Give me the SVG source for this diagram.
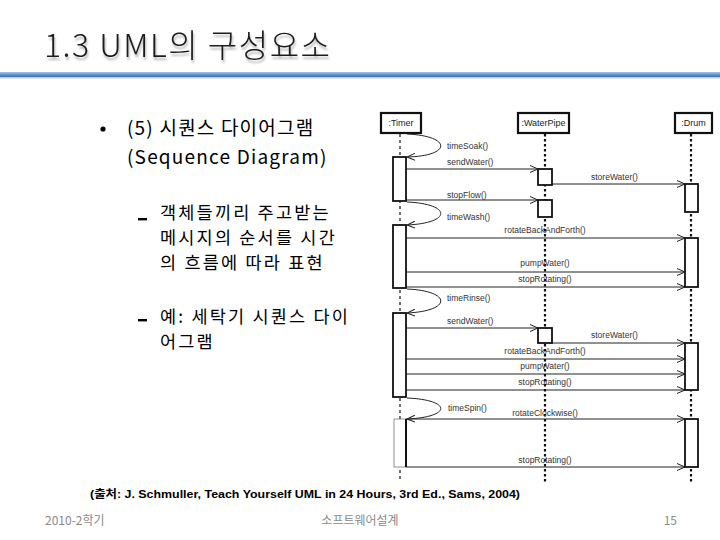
<svg xmlns="http://www.w3.org/2000/svg" width="720" height="540" viewBox="0 0 720 540">
<defs>
<linearGradient id="bar" x1="0" y1="0" x2="0" y2="1">
<stop offset="0" stop-color="#a9c8ee"/>
<stop offset="0.45" stop-color="#6b9bd6"/>
<stop offset="1" stop-color="#3d6fae"/>
</linearGradient>
<filter id="sh" x="-5%" y="-20%" width="110%" height="160%">
<feDropShadow dx="1" dy="3" stdDeviation="1.2" flood-color="#000" flood-opacity="0.3"/>
</filter>
<marker id="ah" markerWidth="9" markerHeight="8" refX="8" refY="4" orient="auto" markerUnits="userSpaceOnUse">
<path d="M0,0.5 L8,4 L0,7.5" fill="none" stroke="#222" stroke-width="1"/>
</marker>
</defs>
<style>
.title{font-family:"Noto Sans CJK KR","Noto Sans",sans-serif;font-size:32px;letter-spacing:1.5px;fill:#1a1a1a;font-weight:300}
.body{font-family:"Noto Sans CJK KR","Noto Sans",sans-serif;font-size:17.5px;letter-spacing:2.2px;fill:#000}
.body1{font-family:"Noto Sans CJK KR","Noto Sans",sans-serif;font-size:19px;letter-spacing:1.2px;fill:#000}
.lbl{font-family:"Liberation Sans",Arial,sans-serif;font-size:8.5px;fill:#333}
.hdr{font-family:"Liberation Sans",Arial,sans-serif;font-size:9px;fill:#222}
.foot{font-family:"Noto Sans CJK KR","Noto Sans",sans-serif;font-size:12px;fill:#8a8a8a}
.cite{font-family:"Liberation Sans","Noto Sans CJK KR",sans-serif;font-size:11px;font-weight:bold;fill:#000}
.msg{stroke:#222;stroke-width:1;fill:none}
.act{fill:#fff;stroke:#111;stroke-width:1.8}
.box{fill:#fff;stroke:#111;stroke-width:2.2}
.ll{stroke:#111;stroke-width:1.2;stroke-dasharray:3,3;fill:none}
.llb{stroke:#111;stroke-width:2.2;stroke-dasharray:2.5,2.5;fill:none}
</style>

<g id="title">
<text class="title" x="44" y="57" filter="url(#sh)">1.3 UML의 구성요소</text>
<rect x="0" y="72" width="720" height="5" fill="url(#bar)"/>
<rect x="0" y="77" width="720" height="1.5" fill="#c8ccd2"/>
</g>

<g id="bullets">
<circle cx="103" cy="129" r="2.6" fill="#000"/>
<text class="body1" x="127" y="135">(5) 시퀀스 다이어그램</text>
<text class="body1" x="127" y="164">(Sequence Diagram)</text>
<rect x="138" y="218" width="9" height="2.4" fill="#000"/>
<text class="body" x="160" y="219">객체들끼리 주고받는</text>
<text class="body" x="160" y="244">메시지의 순서를 시간</text>
<text class="body" x="160" y="269">의 흐름에 따라 표현</text>
<rect x="138" y="319" width="9" height="2.4" fill="#000"/>
<text class="body" x="160" y="323">예: 세탁기 시퀀스 다이</text>
<text class="body" x="160" y="348">어그램</text>
</g>

<g id="timer">
<rect class="box" x="381" y="113" width="40" height="20"/>
<text class="hdr" x="401" y="126" text-anchor="middle">:Timer</text>
</g>
<g id="waterpipe">
<rect class="box" x="518" y="113" width="51" height="20"/>
<text class="hdr" x="543.5" y="126" text-anchor="middle">:WaterPipe</text>
</g>
<g id="drum">
<rect class="box" x="675" y="113" width="37" height="20"/>
<text class="hdr" x="693.5" y="126" text-anchor="middle">:Drum</text>
</g>

<g id="connectors">
<path class="msg" d="M407,134 C452,136 452,156 407,157" marker-end="url(#ah)"/>
<path class="msg" d="M407,202 C452,204 452,223 407,225" marker-end="url(#ah)"/>
<path class="msg" d="M407,289 C452,291 452,311 407,313" marker-end="url(#ah)"/>
<path class="msg" d="M407,398 C452,400 452,417 407,419" marker-end="url(#ah)"/>
<line class="msg" x1="406" y1="169" x2="538" y2="169" marker-end="url(#ah)"/>
<line class="msg" x1="552" y1="184" x2="685" y2="184" marker-end="url(#ah)"/>
<line class="msg" x1="406" y1="200" x2="538" y2="200" marker-end="url(#ah)"/>
<line class="msg" x1="406" y1="238" x2="685" y2="238" marker-end="url(#ah)"/>
<line class="msg" x1="406" y1="272" x2="685" y2="272" marker-end="url(#ah)"/>
<line class="msg" x1="406" y1="287" x2="685" y2="287" marker-end="url(#ah)"/>
<line class="msg" x1="406" y1="328" x2="538" y2="328" marker-end="url(#ah)"/>
<line class="msg" x1="552" y1="343" x2="685" y2="343" marker-end="url(#ah)"/>
<line class="msg" x1="406" y1="359" x2="685" y2="359" marker-end="url(#ah)"/>
<line class="msg" x1="406" y1="374" x2="685" y2="374" marker-end="url(#ah)"/>
<line class="msg" x1="406" y1="390" x2="685" y2="390" marker-end="url(#ah)"/>
<line class="msg" x1="406" y1="419" x2="685" y2="419" marker-end="url(#ah)"/>
<line class="msg" x1="406" y1="467" x2="685" y2="467" marker-end="url(#ah)"/>
<line class="ll" x1="400" y1="134" x2="400" y2="482"/>
<line class="llb" x1="545" y1="134" x2="545" y2="482"/>
<line class="llb" x1="691" y1="134" x2="691" y2="482"/>
</g>

<g id="labels">
<text class="lbl" x="447" y="149">timeSoak()</text>
<text class="lbl" x="447" y="165">sendWater()</text>
<text class="lbl" x="591" y="180">storeWater()</text>
<text class="lbl" x="447" y="198">stopFlow()</text>
<text class="lbl" x="447" y="220">timeWash()</text>
<text class="lbl" x="545" y="233" text-anchor="middle">rotateBackAndForth()</text>
<text class="lbl" x="545" y="266" text-anchor="middle">pumpWater()</text>
<text class="lbl" x="545" y="282" text-anchor="middle">stopRotating()</text>
<text class="lbl" x="447" y="301">timeRinse()</text>
<text class="lbl" x="447" y="324">sendWater()</text>
<text class="lbl" x="591" y="338">storeWater()</text>
<text class="lbl" x="545" y="354" text-anchor="middle">rotateBackAndForth()</text>
<text class="lbl" x="545" y="369" text-anchor="middle">pumpWater()</text>
<text class="lbl" x="545" y="385" text-anchor="middle">stopRotating()</text>
<text class="lbl" x="448" y="411">timeSpin()</text>
<text class="lbl" x="545" y="416" text-anchor="middle">rotateClockwise()</text>
<text class="lbl" x="545" y="463" text-anchor="middle">stopRotating()</text>
</g>

<g id="activations">
<rect class="act" x="393" y="157" width="13" height="44"/>
<rect class="act" x="393" y="225" width="13" height="63"/>
<rect class="act" x="393" y="313" width="13" height="84"/>
<rect x="394" y="419" width="12" height="48" fill="#fff" stroke="#777" stroke-width="0.8"/>
<line x1="406" y1="419" x2="406" y2="467" stroke="#111" stroke-width="2"/>
<rect class="act" x="538" y="169" width="14" height="16"/>
<rect class="act" x="538" y="200" width="14" height="17"/>
<rect class="act" x="538" y="328" width="14" height="15"/>
<rect class="act" x="685" y="184" width="13" height="28"/>
<rect class="act" x="685" y="238" width="13" height="49"/>
<rect class="act" x="685" y="343" width="13" height="47"/>
<rect class="act" x="685" y="419" width="13" height="48"/>
</g>

<g id="footer">
<text class="cite" x="90" y="498" textLength="430" lengthAdjust="spacingAndGlyphs">(출처: J. Schmuller, Teach Yourself UML in 24 Hours, 3rd Ed., Sams, 2004)</text>
<text class="foot" x="45" y="525">2010-2학기</text>
<text class="foot" x="360" y="525" text-anchor="middle">소프트웨어설계</text>
<text class="foot" x="677" y="525" text-anchor="end">15</text>
</g>
</svg>
